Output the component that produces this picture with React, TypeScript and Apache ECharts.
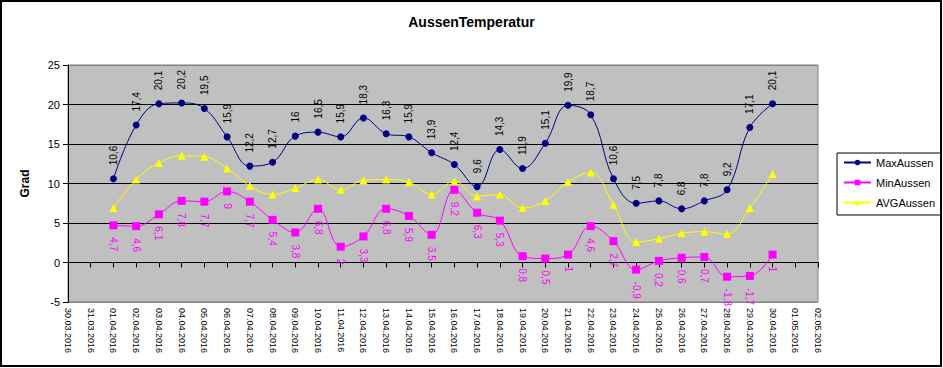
import React, { useEffect, useRef } from "react";
import * as echarts from "echarts";

const categories = [
  "30.03.2016", "31.03.2016", "01.04.2016", "02.04.2016", "03.04.2016", "04.04.2016",
  "05.04.2016", "06.04.2016", "07.04.2016", "08.04.2016", "09.04.2016", "10.04.2016",
  "11.04.2016", "12.04.2016", "13.04.2016", "14.04.2016", "15.04.2016", "16.04.2016",
  "17.04.2016", "18.04.2016", "19.04.2016", "20.04.2016", "21.04.2016", "22.04.2016",
  "23.04.2016", "24.04.2016", "25.04.2016", "26.04.2016", "27.04.2016", "28.04.2016",
  "29.04.2016", "30.04.2016", "01.05.2016", "02.05.2016",
];

const maxAussen = [
  null, null, 10.6, 17.4, 20.1, 20.2, 19.5, 15.9, 12.2, 12.7, 16, 16.5, 15.9, 18.3, 16.3,
  15.9, 13.9, 12.4, 9.6, 14.3, 11.9, 15.1, 19.9, 18.7, 10.6, 7.5, 7.8, 6.8, 7.8, 9.2,
  17.1, 20.1, null, null,
];

const minAussen = [
  null, null, 4.7, 4.6, 6.1, 7.8, 7.7, 9, 7.7, 5.4, 3.8, 6.8, 2, 3.3, 6.8, 5.9, 3.5, 9.2,
  6.3, 5.3, 0.8, 0.5, 1, 4.6, 2.7, -0.9, 0.2, 0.6, 0.7, -1.8, -1.7, 1, null, null,
];

const avgAussen = [
  null, null, 6.9, 10.5, 12.6, 13.5, 13.4, 11.9, 9.7, 8.6, 9.4, 10.5, 9.2, 10.4, 10.5,
  10.2, 8.6, 10.3, 8.4, 8.6, 6.9, 7.8, 10.2, 11.4, 7.3, 2.6, 3.0, 3.7, 3.9, 3.6, 6.9,
  11.2, null, null,
];

const FONT = "'Liberation Sans', Arial, sans-serif";
const fmt = (p: any) => String(p.value).replace(".", ",");

export default function App() {
  const ref = useRef<HTMLDivElement>(null);

  useEffect(() => {
    document.body.style.margin = "0";
    const chart = echarts.init(ref.current!, null, { renderer: "svg" });
    chart.setOption({
      animation: false,
      backgroundColor: "#ffffff",
      textStyle: { fontFamily: FONT },
      title: {
        text: "AussenTemperatur",
        left: "center",
        top: 15,
        padding: 0,
        textStyle: { fontSize: 14, fontWeight: "bold", color: "#000", fontFamily: FONT },
      },
      legend: {
        left: 837,
        top: 153,
        orient: "vertical",
        itemWidth: 27,
        itemHeight: 7,
        itemGap: 9,
        borderColor: "#000",
        borderWidth: 1,
        borderRadius: 0,
        padding: [4, 6, 7, 6],
        textStyle: { fontSize: 11, color: "#000", fontFamily: FONT },
        data: ["MaxAussen", "MinAussen", "AVGAussen"],
      },
      grid: {
        left: 68,
        right: 125,
        top: 65,
        bottom: 66,
        show: true,
        backgroundColor: "#c0c0c0",
        borderColor: "#808080",
        borderWidth: 1,
      },
      xAxis: [
        {
          type: "category",
          data: categories,
          boundaryGap: false,
          position: "bottom",
          axisLine: { show: false, onZero: false },
          axisTick: { show: false },
          axisLabel: {
            interval: 0,
            rotate: -90,
            margin: 6,
            fontSize: 9,
            color: "#000",
            fontFamily: FONT,
          },
        },
        {
          type: "category",
          data: categories,
          boundaryGap: false,
          position: "bottom",
          axisLine: { show: true, onZero: true, onZeroAxisIndex: 0, lineStyle: { color: "#000", width: 1 } },
          axisTick: { show: true, interval: 0, length: 5, lineStyle: { color: "#000" } },
          axisLabel: { show: false },
        },
      ],
      yAxis: {
        type: "value",
        min: -5,
        max: 25,
        interval: 5,
        name: "Grad",
        nameLocation: "middle",
        nameRotate: 90,
        nameGap: 37,
        nameTextStyle: { fontSize: 12, fontWeight: "bold", color: "#000", fontFamily: FONT },
        axisLine: { show: true, lineStyle: { color: "#000", width: 1 } },
        axisTick: { show: true, length: 5, lineStyle: { color: "#000" } },
        axisLabel: { fontSize: 11, color: "#000", margin: 8, fontFamily: FONT },
        splitLine: {
          show: true,
          lineStyle: {
            color: ["#808080", "#000", "#000", "#000", "#000", "#000", "#808080"],
            width: 1,
          },
        },
      },
      series: [
        {
          name: "MaxAussen",
          type: "line",
          data: maxAussen,
          xAxisIndex: 0,
          smooth: 0.4,
          symbol: "circle",
          symbolSize: 7,
          itemStyle: { color: "#000080" },
          lineStyle: { color: "#000080", width: 1 },
          label: {
            show: true,
            position: "top",
            rotate: 90,
            align: "left",
            verticalAlign: "middle",
            distance: 10,
            fontSize: 10,
            color: "#000",
            fontFamily: FONT,
            formatter: fmt,
          },
          z: 3,
        },
        {
          name: "MinAussen",
          type: "line",
          data: minAussen,
          xAxisIndex: 0,
          smooth: 0.4,
          symbol: "rect",
          symbolSize: 8,
          itemStyle: { color: "#ff00ff" },
          lineStyle: { color: "#ff00ff", width: 1 },
          label: {
            show: true,
            position: "bottom",
            rotate: -90,
            align: "left",
            verticalAlign: "middle",
            distance: 8,
            fontSize: 10,
            color: "#ff00ff",
            fontFamily: FONT,
            formatter: fmt,
          },
          z: 2,
        },
        {
          name: "AVGAussen",
          type: "line",
          data: avgAussen,
          xAxisIndex: 0,
          smooth: 0.4,
          symbol: "triangle",
          symbolSize: 8,
          itemStyle: { color: "#ffff00" },
          lineStyle: { color: "#ffff00", width: 1 },
          label: { show: false },
          z: 2,
        },
      ],
      graphic: [
        {
          type: "rect",
          shape: { x: 1, y: 1, width: 940, height: 365 },
          style: { fill: "none", stroke: "#000", lineWidth: 2 },
          silent: true,
          z: 100,
        },
      ],
    });
    return () => chart.dispose();
  }, []);

  return <div ref={ref} style={{ width: 943, height: 368 }} />;
}
